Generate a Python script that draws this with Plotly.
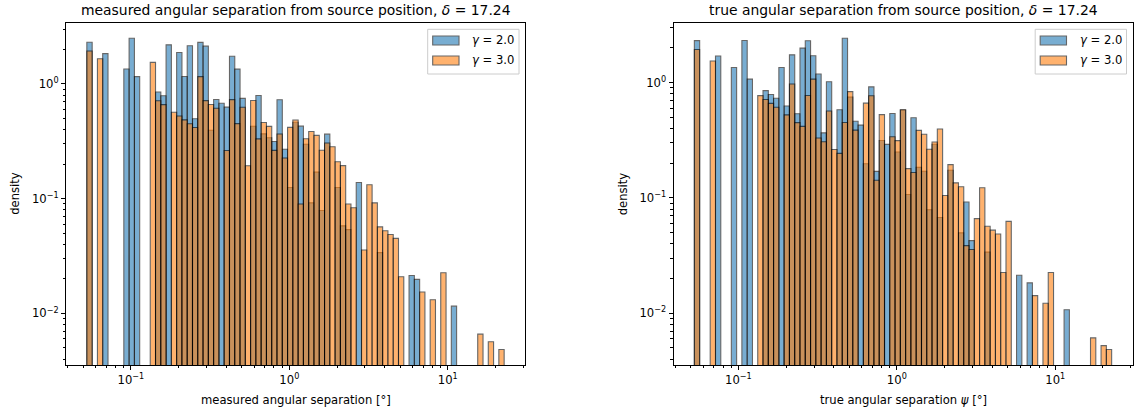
import numpy as np
import plotly.graph_objects as go

# ---- histogram data -------------------------------------------------------
# log-spaced bin edges shared by both panels
bin_min_deg = 0.0527
bin_max_deg = 22.7
n_bins = 79

series_names = ["<i>γ</i> = 2.0", "<i>γ</i> = 3.0"]
series_colors = ["#1f77b4", "#ff7f0e"]

# event counts per bin, measured angular separation
measured_gamma2 = [1, 0, 0, 1, 0, 0, 0, 1, 2, 1,
                   0, 0, 0, 1, 1, 3, 0, 3, 2, 4,
                   1, 5, 5, 1, 2, 2, 2, 6, 5, 3,
                   0, 2, 4, 2, 2, 2, 5, 2, 1, 4,
                   4, 3, 1, 2, 1, 5, 0, 2, 1, 1,
                   0, 3, 0, 0, 0, 1, 0, 0, 0, 0,
                   0, 1, 1, 0, 0, 0, 0, 0, 0, 1,
                   0, 0, 0, 0, 0, 0, 0, 0, 0]
measured_gamma3 = [1, 0, 1, 0, 0, 0, 0, 0, 0, 0,
                   0, 0, 2, 1, 1, 0, 1, 1, 1, 1,
                   1, 3, 2, 2, 2, 0, 1, 3, 2, 3,
                   1, 4, 2, 3, 3, 2, 3, 2, 4, 5,
                   1, 4, 5, 5, 4, 5, 5, 4, 4, 2,
                   2, 0, 1, 4, 3, 2, 2, 2, 2, 1,
                   0, 0, 0, 1, 0, 1, 0, 2, 0, 0,
                   0, 0, 0, 0, 1, 0, 1, 0, 1]

# event counts per bin, true angular separation
true_gamma2 = [1, 0, 0, 0, 1, 0, 0, 1, 0, 2,
               1, 0, 0, 1, 1, 1, 2, 1, 3, 1,
               4, 5, 4, 3, 1, 3, 0, 2, 9, 3,
               2, 2, 1, 5, 1, 2, 2, 4, 2, 5,
               1, 5, 2, 2, 1, 4, 1, 0, 3, 0,
               1, 2, 1, 0, 0, 1, 0, 0, 0, 0,
               0, 1, 0, 1, 0, 0, 0, 0, 0, 0,
               1, 0, 0, 0, 0, 0, 0, 0, 0]
true_gamma3 = [1, 0, 0, 1, 0, 0, 0, 0, 0, 0,
               0, 0, 1, 1, 1, 1, 0, 1, 2, 1,
               1, 2, 3, 1, 1, 2, 1, 1, 2, 4,
               2, 0, 4, 5, 1, 4, 0, 3, 3, 6,
               2, 2, 5, 5, 4, 5, 7, 2, 4, 3,
               3, 1, 1, 2, 4, 2, 2, 2, 1, 3,
               0, 0, 0, 0, 1, 0, 1, 2, 0, 0,
               0, 0, 0, 0, 0, 1, 0, 1, 1]

panel_titles = ["measured angular separation from source position, <i>δ</i> = 17.24",
                "true angular separation from source position, <i>δ</i> = 17.24"]
panel_xlabels = ["measured angular separation [°]",
                 "true angular separation <i>ψ</i> [°]"]
y_label = "density"

# ---- binning / normalisation ---------------------------------------------
edges = np.logspace(np.log10(bin_min_deg), np.log10(bin_max_deg), n_bins + 1)
widths = np.diff(edges)


def to_density(counts):
    c = np.asarray(counts, dtype=float)
    return c / (c.sum() * widths)


panels = [
    [to_density(measured_gamma2), to_density(measured_gamma3)],
    [to_density(true_gamma2), to_density(true_gamma3)],
]

# ---- figure geometry (pixels) -------------------------------------------
W, H = 1137, 412
ax_left_px = [66.0, 673.5]
ax_w_px = 459.0
ax_top_px, ax_bot_px = 22.7, 365.0

FONT = "DejaVu Sans"
TICK_SIZE = 11.6


def px_x(p):
    return p / W


def px_y(p):
    return 1 - p / H


fig = go.Figure()

# x range: data span with 5% padding in log space
lx0, lx1 = np.log10(edges[0]), np.log10(edges[-1])
pad_x = 0.05 * (lx1 - lx0)
x_range = [lx0 - pad_x, lx1 + pad_x]

x_major = [0.1, 1, 10]
x_major_text = ["10<sup>−1</sup>", "10<sup>0</sup>", "10<sup>1</sup>"]
y_major = [0.01, 0.1, 1]
y_major_text = ["10<sup>−2</sup>", "10<sup>−1</sup>", "10<sup>0</sup>"]


def minor_ticks(lo_log, hi_log):
    vals = []
    for k in range(int(np.floor(lo_log)) - 1, int(np.ceil(hi_log)) + 1):
        for m in range(2, 10):
            v = m * 10.0 ** k
            if lo_log <= np.log10(v) <= hi_log:
                vals.append(v)
    return vals


annotations = []
shapes = []

for p, dens_pair in enumerate(panels):
    xa = "x" if p == 0 else "x2"
    ya = "y" if p == 0 else "y2"

    for s, dens in enumerate(dens_pair):
        mask = dens > 0
        fig.add_trace(go.Bar(
            x=edges[:-1][mask],
            y=dens[mask],
            width=widths[mask],
            offset=0,
            name=series_names[s],
            marker=dict(color=series_colors[s], opacity=0.6,
                        line=dict(color="black", width=1.1)),
            xaxis=xa, yaxis=ya, showlegend=False,
        ))

    # y range: smallest/largest bar with 5% padding in log space
    allv = np.concatenate(dens_pair)
    ly0, ly1 = np.log10(allv[allv > 0].min()), np.log10(allv.max())
    pad_y = 0.05 * (ly1 - ly0)
    y_range = [ly0 - pad_y, ly1 + pad_y]

    x0p = ax_left_px[p]
    x_dom = [px_x(x0p), px_x(x0p + ax_w_px)]
    y_dom = [px_y(ax_bot_px), px_y(ax_top_px)]

    axis_common = dict(
        type="log", showgrid=False, zeroline=False,
        showline=True, linecolor="black", linewidth=1, mirror=True,
        ticks="outside", ticklen=4, tickwidth=0.9, tickcolor="black",
        tickfont=dict(family=FONT, size=TICK_SIZE, color="black"),
        tickmode="array",
    )
    xkey = "xaxis" if p == 0 else "xaxis2"
    ykey = "yaxis" if p == 0 else "yaxis2"
    fig.update_layout({
        xkey: dict(axis_common, domain=x_dom, range=x_range,
                   tickvals=x_major, ticktext=x_major_text,
                   anchor=ya,
                   minor=dict(tickmode="array",
                              tickvals=minor_ticks(*x_range),
                              ticks="outside", ticklen=2.3, tickwidth=0.7,
                              tickcolor="black", showgrid=False)),
        ykey: dict(axis_common, domain=y_dom, range=y_range,
                   tickvals=y_major, ticktext=y_major_text,
                   anchor=xa,
                   minor=dict(tickmode="array",
                              tickvals=minor_ticks(*y_range),
                              ticks="outside", ticklen=2.3, tickwidth=0.7,
                              tickcolor="black", showgrid=False)),
    })

    cx = x0p + ax_w_px / 2
    # panel title
    annotations.append(dict(
        text=panel_titles[p], x=px_x(cx), y=px_y(10), xref="paper", yref="paper",
        xanchor="center", yanchor="middle", showarrow=False,
        font=dict(family=FONT, size=13.9, color="black")))
    # x label
    annotations.append(dict(
        text=panel_xlabels[p], x=px_x(cx), y=px_y(400), xref="paper", yref="paper",
        xanchor="center", yanchor="middle", showarrow=False,
        font=dict(family=FONT, size=TICK_SIZE, color="black")))
    # y label
    annotations.append(dict(
        text=y_label, x=px_x(x0p - 51), y=px_y((ax_top_px + ax_bot_px) / 2),
        xref="paper", yref="paper", textangle=-90,
        xanchor="center", yanchor="middle", showarrow=False,
        font=dict(family=FONT, size=TICK_SIZE, color="black")))

    # legend box (in axis-domain coordinates)
    xr = f"{xa} domain"
    yr = f"{ya} domain"

    def dx(px):
        return px / ax_w_px

    def dy(px):
        return (ax_bot_px - px) / (ax_bot_px - ax_top_px)

    shapes.append(dict(type="rect", xref=xr, yref=yr,
                       x0=dx(361.7), x1=dx(453.0), y0=dy(74.0), y1=dy(29.3),
                       fillcolor="rgba(255,255,255,0.8)",
                       line=dict(color="#cccccc", width=1)))
    for s in range(2):
        top = 36.0 + 20.0 * s
        shapes.append(dict(type="rect", xref=xr, yref=yr,
                           x0=dx(366.7), x1=dx(393.0), y0=dy(top + 9), y1=dy(top),
                           fillcolor=series_colors[s], opacity=0.6,
                           line=dict(color="black", width=1.1)))
        annotations.append(dict(
            text=series_names[s], x=dx(404.0), y=dy(top + 4.5),
            xref=xr, yref=yr, xanchor="left", yanchor="middle", showarrow=False,
            font=dict(family=FONT, size=TICK_SIZE, color="black")))

fig.update_layout(
    width=W, height=H,
    margin=dict(l=0, r=0, t=0, b=0),
    paper_bgcolor="white", plot_bgcolor="white",
    barmode="overlay",
    annotations=annotations,
    shapes=shapes,
    font=dict(family=FONT, color="black"),
)

fig.write_html("out.html")
